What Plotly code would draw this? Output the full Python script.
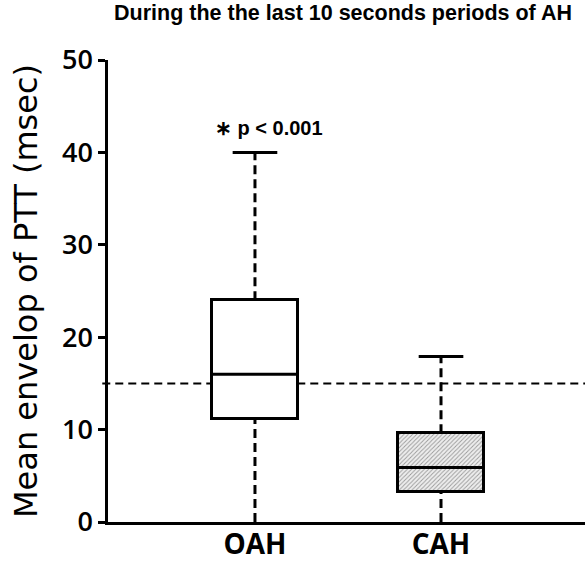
import plotly.graph_objects as go

# ---- data ----
groups = ["OAH", "CAH"]
x_pos = [0, 1]
q1 = [11.1, 3.3]
median = [16.0, 5.9]
q3 = [24.0, 9.6]
w_low = [0.0, 0.0]
w_high = [40.0, 17.9]
ref_value = 15
y_ticks = [0, 10, 20, 30, 40, 50]
title_text = "During the the last 10 seconds periods of AH"
y_title = "Mean envelop of PTT (msec)"
annot_text = "∗ p < 0.001"

# ---- style ----
BOX_W = 0.46
CAP_W = 0.24
LW = 3
DASH = "9px,5px"

fig = go.Figure()

patterns = [
    dict(shape=""),
    dict(shape="/", fgcolor="#9a9a9a", bgcolor="#eeeeee", size=3, solidity=0.3, fillmode="replace"),
]
fills = ["white", "#eeeeee"]

# boxes
for i in range(len(groups)):
    fig.add_trace(go.Bar(
        x=[x_pos[i]], y=[q3[i] - q1[i]], base=[q1[i]], width=[BOX_W],
        marker=dict(color=fills[i], line=dict(color="black", width=LW), pattern=patterns[i]),
        showlegend=False, hoverinfo="skip",
    ))

# whiskers and medians
for i in range(len(groups)):
    xc = x_pos[i]
    fig.add_trace(go.Scatter(x=[xc, xc], y=[q3[i], w_high[i]], mode="lines",
                             line=dict(color="black", width=LW, dash=DASH), showlegend=False, hoverinfo="skip"))
    fig.add_trace(go.Scatter(x=[xc, xc], y=[w_low[i], q1[i]], mode="lines",
                             line=dict(color="black", width=LW, dash=DASH), showlegend=False, hoverinfo="skip"))
    fig.add_trace(go.Scatter(x=[xc - CAP_W / 2, xc + CAP_W / 2], y=[w_high[i], w_high[i]], mode="lines",
                             line=dict(color="black", width=LW), showlegend=False, hoverinfo="skip"))
    fig.add_trace(go.Scatter(x=[xc - BOX_W / 2, xc + BOX_W / 2], y=[median[i], median[i]], mode="lines",
                             line=dict(color="black", width=LW), showlegend=False, hoverinfo="skip"))

# reference line
fig.add_shape(type="line", xref="paper", yref="y", x0=-0.012, x1=1, y0=ref_value, y1=ref_value,
              line=dict(color="black", width=2, dash="8px,5px"), layer="below")

fig.add_annotation(x=x_pos[0] + 0.075, y=42.6, text=annot_text, showarrow=False,
                   font=dict(family="Liberation Sans, Arial", size=20, color="black", weight="bold"))

fig.update_layout(
    width=585, height=567,
    margin=dict(l=108, r=0, t=60, b=45, autoexpand=False),
    plot_bgcolor="white", paper_bgcolor="white",
    bargap=0,
    title=dict(text=title_text, x=0.195, xanchor="left", y=0.992, yanchor="top",
               font=dict(family="Liberation Sans, Arial", size=21.5, color="black", weight="bold")),
    xaxis=dict(range=[-0.79, 1.774], tickvals=x_pos, ticktext=groups, showgrid=False, zeroline=False,
               showline=True, linecolor="black", linewidth=2.5, ticks="", automargin=False,
               ticklabelstandoff=-4,
               tickfont=dict(family="Open Sans", size=28, color="black", weight="bold")),
    yaxis=dict(range=[0, 50], tickvals=y_ticks, showgrid=False, zeroline=False, automargin=False,
               showline=True, linecolor="black", linewidth=2.5, ticks="outside", ticklen=7, tickwidth=2.5,
               tickcolor="black",
               tickfont=dict(family="Open Sans", size=27, color="black", weight=600),
               title=dict(text=y_title, standoff=15,
                          font=dict(family="DejaVu Sans", size=32, color="black"))),
)

fig.write_html("out.html", config={"displayModeBar": False},
               post_script="document.body.style.margin='0';document.body.style.overflow='hidden';")
